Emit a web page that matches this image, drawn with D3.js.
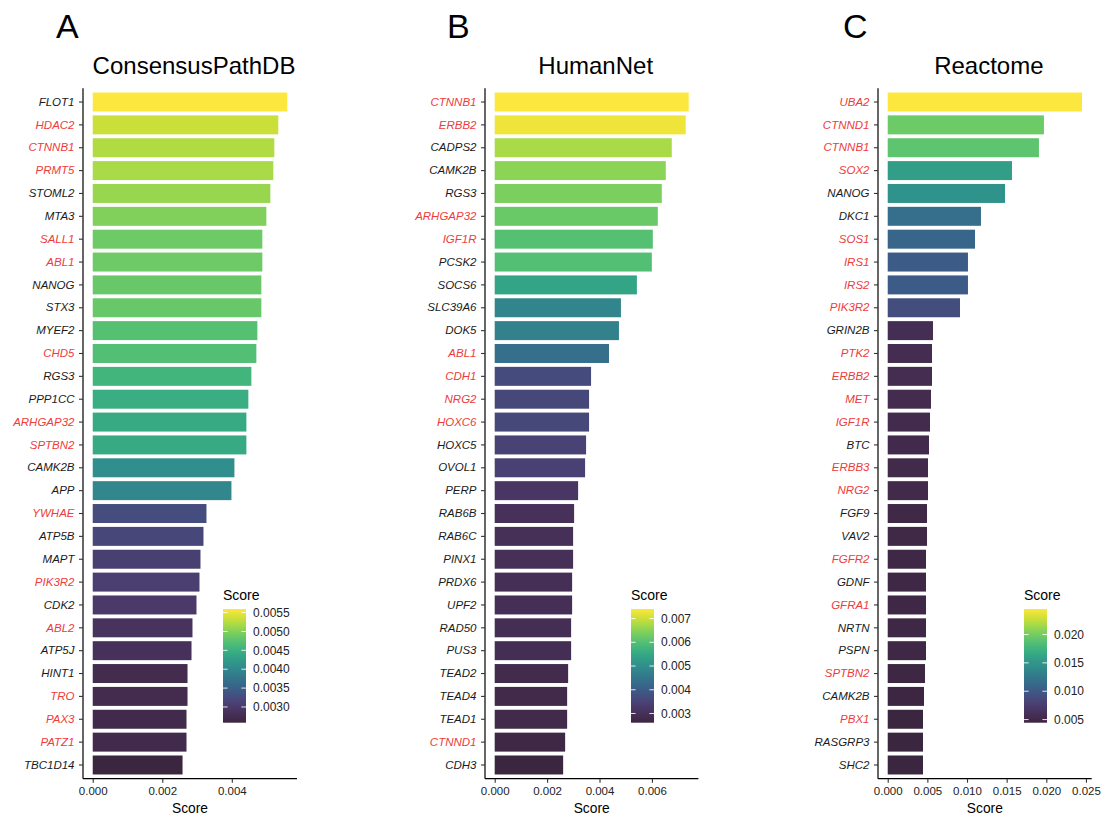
<!DOCTYPE html>
<html>
<head>
<meta charset="utf-8">
<script src="https://cdn.jsdelivr.net/npm/d3@7"></script>
<style>
  html, body { margin: 0; padding: 0; background: #fff; }
  svg { display: block; font-family: "Liberation Sans", Arial, sans-serif; }
</style>
</head>
<body>
<svg id="chart" width="1105" height="819"></svg>
<script>
// ---- ConsensusPathDB ----
const genesA = ["FLOT1","HDAC2","CTNNB1","PRMT5","STOML2","MTA3","SALL1","ABL1","NANOG","STX3",
  "MYEF2","CHD5","RGS3","PPP1CC","ARHGAP32","SPTBN2","CAMK2B","APP","YWHAE","ATP5B",
  "MAPT","PIK3R2","CDK2","ABL2","ATP5J","HINT1","TRO","PAX3","PATZ1","TBC1D14"];
const scoresA = [0.005595,0.005337,0.005222,0.005194,0.005108,0.004993,0.004878,0.004878,0.004849,0.004849,
  0.004735,0.004706,0.004562,0.004476,0.004419,0.004419,0.004075,0.003989,0.003271,0.003185,
  0.003099,0.003070,0.002984,0.002869,0.002841,0.002726,0.002726,0.002697,0.002697,0.002583];
const highlightA = ["HDAC2","CTNNB1","PRMT5","SALL1","ABL1","CHD5","ARHGAP32","SPTBN2","YWHAE",
  "PIK3R2","ABL2","TRO","PAX3","PATZ1"];
const xTicksA = [0, 0.002, 0.004];
const legendTicksA = [0.0030, 0.0035, 0.0040, 0.0045, 0.0050, 0.0055];

// ---- HumanNet ----
const genesB = ["CTNNB1","ERBB2","CADPS2","CAMK2B","RGS3","ARHGAP32","IGF1R","PCSK2","SOCS6","SLC39A6",
  "DOK5","ABL1","CDH1","NRG2","HOXC6","HOXC5","OVOL1","PERP","RAB6B","RAB6C",
  "PINX1","PRDX6","UPF2","RAD50","PUS3","TEAD2","TEAD4","TEAD1","CTNND1","CDH3"];
const scoresB = [0.007403,0.007289,0.006757,0.006529,0.006376,0.006224,0.006034,0.005996,0.005426,0.004817,
  0.004741,0.004361,0.003677,0.003601,0.003601,0.003487,0.003449,0.003183,0.003030,0.002992,
  0.002992,0.002954,0.002954,0.002916,0.002916,0.002802,0.002764,0.002764,0.002688,0.002612];
const highlightB = ["CTNNB1","ERBB2","ARHGAP32","IGF1R","ABL1","CDH1","NRG2","HOXC6","CTNND1"];
const xTicksB = [0, 0.002, 0.004, 0.006];
const legendTicksB = [0.003, 0.004, 0.005, 0.006, 0.007];

// ---- Reactome ----
const genesC = ["UBA2","CTNND1","CTNNB1","SOX2","NANOG","DKC1","SOS1","IRS1","IRS2","PIK3R2",
  "GRIN2B","PTK2","ERBB2","MET","IGF1R","BTC","ERBB3","NRG2","FGF9","VAV2",
  "FGFR2","GDNF","GFRA1","NRTN","PSPN","SPTBN2","CAMK2B","PBX1","RASGRP3","SHC2"];
const scoresC = [0.02450,0.01970,0.01907,0.01567,0.01479,0.01176,0.01101,0.01012,0.01012,0.009115,
  0.005711,0.005585,0.005585,0.005459,0.005333,0.005207,0.005081,0.005081,0.004955,0.004955,
  0.004828,0.004828,0.004828,0.004828,0.004828,0.004703,0.004576,0.004450,0.004450,0.004450];
const highlightC = ["UBA2","CTNND1","CTNNB1","SOX2","SOS1","IRS1","IRS2","PIK3R2","PTK2","ERBB2",
  "MET","IGF1R","ERBB3","NRG2","FGFR2","GFRA1","SPTBN2","PBX1"];
const xTicksC = [0, 0.005, 0.010, 0.015, 0.020, 0.025];
const legendTicksC = [0.005, 0.010, 0.015, 0.020];

const panels = [
  { letter: "A", title: "ConsensusPathDB", genes: genesA, scores: scoresA, highlight: highlightA,
    xTicks: xTicksA, legendTicks: legendTicksA, legendFmt: ".4f",
    left: 83, right: 297, letterX: 56, legendX: 223 },
  { letter: "B", title: "HumanNet", genes: genesB, scores: scoresB, highlight: highlightB,
    xTicks: xTicksB, legendTicks: legendTicksB, legendFmt: ".3f",
    left: 485, right: 698.4, letterX: 447, legendX: 631 },
  { letter: "C", title: "Reactome", genes: genesC, scores: scoresC, highlight: highlightC,
    xTicks: xTicksC, legendTicks: legendTicksC, legendFmt: ".3f",
    left: 878, right: 1091.7, letterX: 843, legendX: 1024 }
];

const svg = d3.select("#chart");
const plotTop = 88.3, plotBottom = 778.7;
const red = "#EE3B3B", ink = "#1A1A1A";
const barH = 113.7, barTop = 609, barW = 23;

// viridis, softened: dark purples lose much of their chroma, the rest a little
function softViridis(t) {
  const c = d3.hcl(d3.interpolateViridis(t));
  const k = Math.max(0.38, Math.min(0.92, 0.38 + 0.022 * (c.l - 15)));
  c.c *= k;
  c.l += Math.max(0, 35 - c.l) * 0.2;
  return c.formatHex();
}

panels.forEach((p, pi) => {
  const data = p.genes.map((g, i) => ({ gene: g, score: p.scores[i] }));
  const ext = d3.extent(p.scores);
  const maxV = ext[1];

  const x = d3.scaleLinear()
    .domain([-0.05 * maxV, maxV * 1.05])
    .range([p.left, p.right]);
  const y = d3.scaleBand()
    .domain(p.genes)
    .range([plotTop, plotBottom])
    .paddingInner(0.17)
    .paddingOuter(0.185);
  const color = d3.scaleSequential(softViridis).domain(ext);

  const g = svg.append("g");

  // panel letter and title
  g.append("text")
    .attr("x", p.letterX).attr("y", 38)
    .attr("font-size", 34).attr("fill", "#000")
    .text(p.letter);
  g.append("text")
    .attr("x", (p.left + p.right) / 2 + 4).attr("y", 74)
    .attr("text-anchor", "middle")
    .attr("font-size", 24).attr("fill", "#000")
    .text(p.title);

  // bars
  g.append("g").selectAll("rect")
    .data(data)
    .join("rect")
    .attr("x", x(0))
    .attr("y", d => y(d.gene))
    .attr("width", d => x(d.score) - x(0))
    .attr("height", y.bandwidth())
    .attr("fill", d => color(d.score));

  // y axis
  const yAxis = g.append("g")
    .attr("transform", `translate(${p.left},0)`)
    .call(d3.axisLeft(y).tickSize(4).tickPadding(4.5));
  yAxis.select(".domain").attr("stroke", "#000").attr("stroke-width", 1.2)
    .attr("d", `M0,${plotTop}V${plotBottom}`);
  yAxis.selectAll(".tick line").attr("stroke", "#333").attr("stroke-width", 1.1);
  yAxis.selectAll(".tick text")
    .attr("font-size", 11.5)
    .attr("font-style", "italic")
    .attr("font-family", "'Liberation Sans', Arial, sans-serif")
    .attr("fill", d => p.highlight.includes(d) ? red : ink);

  // x axis
  const xAxis = g.append("g")
    .attr("transform", `translate(0,${plotBottom})`)
    .call(d3.axisBottom(x).tickValues(p.xTicks).tickFormat(d3.format(".3f"))
      .tickSize(4).tickPadding(4));
  xAxis.select(".domain").attr("stroke", "#000").attr("stroke-width", 1.2)
    .attr("d", `M${p.left},0H${p.right}`);
  xAxis.selectAll(".tick line").attr("stroke", "#333").attr("stroke-width", 1.1);
  xAxis.selectAll(".tick text")
    .attr("font-size", 11.5)
    .attr("font-family", "'Liberation Sans', Arial, sans-serif")
    .attr("fill", "#222");

  g.append("text")
    .attr("x", (p.left + p.right) / 2).attr("y", 813)
    .attr("text-anchor", "middle")
    .attr("font-size", 13.8).attr("fill", "#000")
    .text("Score");

  // colour bar legend
  const gradId = "grad" + pi;
  const grad = svg.append("defs").append("linearGradient")
    .attr("id", gradId)
    .attr("x1", "0").attr("y1", "1").attr("x2", "0").attr("y2", "0");
  d3.range(0, 1.0001, 0.05).forEach(t => {
    grad.append("stop")
      .attr("offset", t)
      .attr("stop-color", color(ext[0] + t * (ext[1] - ext[0])));
  });
  const ly = d3.scaleLinear().domain(ext).range([barTop + barH, barTop]);
  const lg = g.append("g").attr("transform", `translate(${p.legendX},0)`);
  lg.append("text")
    .attr("x", 0).attr("y", 600)
    .attr("font-size", 14).attr("fill", "#000")
    .text("Score");
  lg.append("rect")
    .attr("x", 0).attr("y", barTop)
    .attr("width", barW).attr("height", barH)
    .attr("fill", `url(#${gradId})`);
  const tk = lg.selectAll(".lt").data(p.legendTicks).join("g")
    .attr("transform", d => `translate(0,${ly(d)})`);
  tk.append("line").attr("x1", 0).attr("x2", 4.6)
    .attr("stroke", "#fff").attr("stroke-opacity", 0.85).attr("stroke-width", 1);
  tk.append("line").attr("x1", barW - 4.6).attr("x2", barW)
    .attr("stroke", "#fff").attr("stroke-opacity", 0.85).attr("stroke-width", 1);
  tk.append("text")
    .attr("x", barW + 7).attr("dy", "0.35em")
    .attr("font-size", 12).attr("fill", "#222")
    .text(d => d3.format(p.legendFmt)(d));
});
</script>
</body>
</html>
